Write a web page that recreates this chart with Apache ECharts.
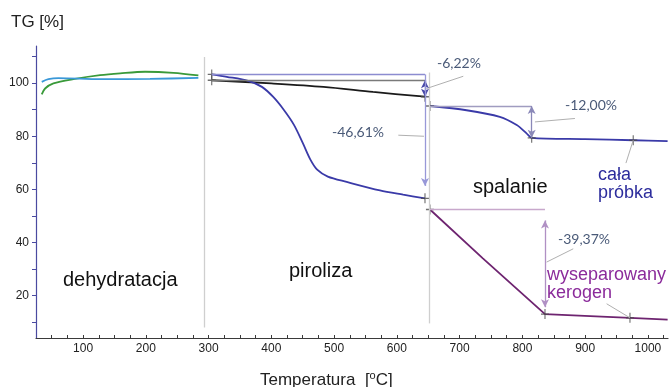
<!DOCTYPE html>
<html><head><meta charset="utf-8">
<script src="https://cdn.jsdelivr.net/npm/echarts@6/dist/echarts.min.js"></script>
<style>html,body{margin:0;padding:0;background:#fff}#c{width:670px;height:387px}</style>
</head><body><div id="c"></div>
<script>
// ---- axes ----
const xTickLabels = [100,200,300,400,500,600,700,800,900,1000];
const xTicks = [50,75,100,125,150,175,200,225,250,275,300,325,350,375,400,425,450,475,500,525,550,575,600,625,650,675,700,725,750,775,800,825,850,875,900,925,950,975,1000,1025];
const yTickLabels = [20,40,60,80,100];
const yTicks = [10,20,30,40,50,60,70,80,90,100,110];

// ---- curves [temperature, TG%] ----
const greenCurve = [[34.2,95.8],[39.5,98.0],[52.7,99.9],[84.6,101.5],[127.1,103.0],[159,103.7],[198.8,104.3],[243.9,103.9],[283.7,102.9]];
const blueCurve = [[34.2,100.5],[44.8,101.5],[60.7,101.9],[127.1,101.5],[206.7,101.6],[283.7,102.0]];
const blackCurve = [[305,101.1],[400,99.9],[483,98.6],[562,96.7],[644.8,94.9]];
const pyrolysisCurve = [[305,103.3],[329,102.4],[363,100.9],[385,98.6],[403,94.8],[420,89.9],[436,84.3],[450,77.5],[462,71.3],[473,67.4],[490,64.8],[520,62.8],[573,59.6],[610,58.0],[644.8,56.6]];
const combustionCurve = [[652.7,91.4],[711,89.8],[764,87.3],[791,84.2],[807,81.0],[814.8,79.4],[900,78.9],[976.6,78.5],[1031.4,78.2]];
const kerogenCurve = [[652.7,52.4],[737,34.0],[836,13.0],[971.4,11.6],[1031.4,10.9]];
const crossPoints = [[305,103.3],[305,101.1],[644.8,94.9],[644.8,56.6],[652.7,91.4],[814.8,79.4],[976.6,78.5],[652.7,52.4],[836,13.0],[971.4,11.6]];

// ---- annotation segments [[x1,y1],[x2,y2]] ----
const bracketLines = [
  [[305,103.3],[644.8,103.3],'#8c8cd0'],
  [[305,101.1],[644.8,101.1],'#7a7a7a'],
  [[652.7,91.4],[814.8,91.4],'#a09cc0'],
  [[652.7,52.4],[836,52.4],'#c8a8cc']
];
const phaseBoundaries = [[[292.8,109.9],[292.8,8.0]],[[651.2,104],[651.2,9.5]]];
const doubleArrows = [
  [[644.8,101.1],[644.8,94.9],'#4848a8'],
  [[814.8,91.4],[814.8,79.4],'#8a88b8'],
  [[836,48.3],[836,15.6],'#b090c4']
];
const singleArrows = [[[644.8,103.3],[644.8,61.3],'#9898d8']];
const leaderLines = [
  [[647.5,98.0],[705.8,102.6]],
  [[602.3,80.4],[643.2,80.0]],
  [[820,85.4],[883.7,86.7]],
  [[838.6,32.6],[881,37.6]],
  [[976.6,78.5],[965,69.9]],
  [[934.2,16.9],[971.4,11.6]]
];
const lossLabels = ['-6,22%','-46,61%','-12,00%','-39,37%'];

const chart = echarts.init(document.getElementById('c'));
const ml = [];
bracketLines.forEach(s => ml.push([{coord:s[0], lineStyle:{color:s[2],width:1.3,type:'solid'}},{coord:s[1]}]));
phaseBoundaries.forEach(s => ml.push([{coord:s[0], lineStyle:{color:'#cfcfcf',width:1.3,type:'solid'}},{coord:s[1]}]));
leaderLines.forEach(s => ml.push([{coord:s[0], lineStyle:{color:'#b0b0b0',width:1,type:'solid'}},{coord:s[1]}]));
doubleArrows.forEach(s => ml.push([{coord:s[0], symbol:'arrow', lineStyle:{color:s[2],width:1.3,type:'solid'}},{coord:s[1], symbol:'arrow'}]));
singleArrows.forEach(s => ml.push([{coord:s[0], symbol:'none', lineStyle:{color:s[2],width:1.3,type:'solid'}},{coord:s[1], symbol:'arrow'}]));

const FONT = 'Liberation Sans, Arial, sans-serif';
function curve(name, data, color, smooth, width) {
  return {name, type:'line', data, symbol:'none', smooth, showSymbol:false, sampling:null,
    lineStyle:{color, width: width||1.8}, itemStyle:{color}, z:3, silent:true};
}
const series = [
  curve('green', greenCurve, '#3a9a3a', 0.3),
  curve('blue', blueCurve, '#3a98d8', 0.3),
  Object.assign(curve('black', blackCurve, '#1a1a1a', 0.3), {
    markLine:{silent:true, symbol:'none', symbolSize:[6,8], animation:false, label:{show:false}, emphasis:{disabled:true}, data: ml}
  }),
  curve('pyrolysis', pyrolysisCurve, '#3a3aa8', 0.3),
  curve('combustion', combustionCurve, '#3a3aa8', 0.3),
  curve('kerogen', kerogenCurve, '#6e2470', false),
  {type:'scatter', data: crossPoints, symbol:'path://M4.3,0H5.7V4.3H10V5.7H5.7V10H4.3V5.7H0V4.3H4.3Z', symbolSize:[8,10], itemStyle:{color:'#4a4a4a'}, z:4, silent:true}
];

function txt(x, y, text, font, fill) {
  return {type:'text', x, y, silent:true, style:{text, font, fill, verticalAlign:'middle'}};
}
const LF = '14px Lato, sans-serif', LC = '#4a5a78';
chart.setOption({
  animation:false,
  backgroundColor:'#fff',
  grid:{left:36, right:2, top:46, bottom:49},
  xAxis:{type:'value', min:25, max:1032,
    axisLine:{lineStyle:{color:'#3a3a3a', width:1.2}},
    axisTick:{inside:true, length:3, customValues:xTicks, lineStyle:{color:'#3a3a3a'}},
    axisLabel:{customValues:xTickLabels, fontSize:12, color:'#222', margin:5, fontFamily:FONT, formatter: v => String(v)},
    splitLine:{show:false}},
  yAxis:{type:'value', min:4, max:114,
    axisLine:{show:true, lineStyle:{color:'#4a4aa0', width:1.2}},
    axisTick:{show:true, length:4, customValues:yTicks, lineStyle:{color:'#4a4aa0'}},
    axisLabel:{customValues:yTickLabels, fontSize:12, color:'#222', margin:7, fontFamily:FONT, formatter: v => String(v)},
    splitLine:{show:false}},
  series,
  graphic:[
    txt(11, 22, 'TG [%]', '17px '+FONT, '#222'),
    {type:'text', x:260, y:380, silent:true, style:{text:'{a|Temperatura  [}{s|o}{a|C]}', verticalAlign:'middle',
      rich:{a:{font:'17px '+FONT, fill:'#222'}, s:{font:'11px '+FONT, fill:'#222', padding:[0,0,8,0]}}}},
    txt(437, 63, lossLabels[0], LF, LC),
    txt(332, 132, lossLabels[1], LF, LC),
    txt(565, 105, lossLabels[2], LF, LC),
    txt(558, 239, lossLabels[3], LF, LC),
    txt(63, 280, 'dehydratacja', '20px '+FONT, '#111'),
    txt(289, 271, 'piroliza', '20px '+FONT, '#111'),
    txt(473, 187, 'spalanie', '20px '+FONT, '#111'),
    txt(598, 175, 'cała', '18px '+FONT, '#2c2c9c'),
    txt(598, 193, 'próbka', '18px '+FONT, '#2c2c9c'),
    txt(547, 275, 'wyseparowany', '18px '+FONT, '#8b2b9b'),
    txt(547, 293, 'kerogen', '18px '+FONT, '#8b2b9b')
  ]
});
</script></body></html>
